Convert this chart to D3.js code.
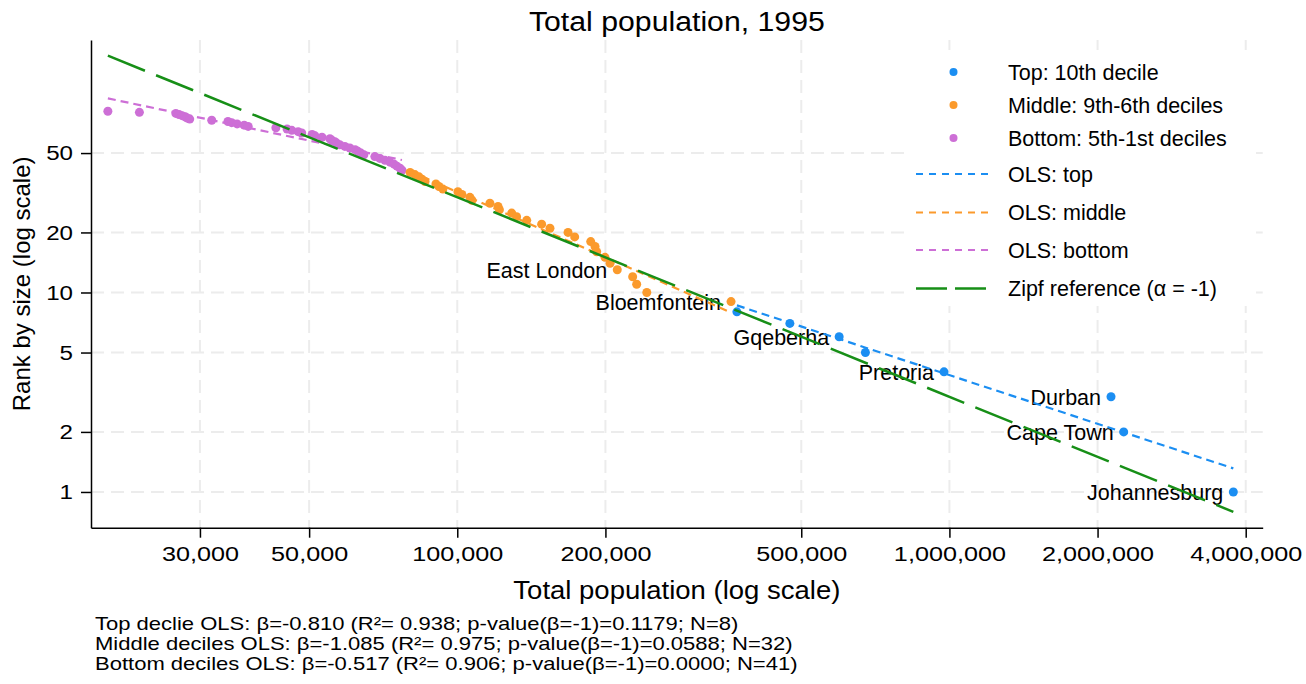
<!DOCTYPE html>
<html>
<head>
<meta charset="utf-8">
<script src="https://cdn.jsdelivr.net/npm/d3@7"></script>
<style>
body { margin: 0; background: #fff; }
svg text { font-family: "Liberation Sans", Arial, Helvetica, sans-serif; fill: #000; }
</style>
</head>
<body>
<div id="chart"></div>
<script>
// populations, ordered by rank
const topPop = [3775000, 2260000, 2130000, 975000, 675000, 597000, 474000, 370000];
const middlePop = [360000, 242700, 231500, 227200, 211400, 204400, 199600, 192000, 190500, 186700,
    173200, 167900, 154300, 148400, 138400, 132000, 129000, 121800, 121000, 116500,
    107100, 106100, 102200, 100300, 93500, 91800, 90500, 86000, 84800, 83600, 82000, 80200];
const bottomPop = [77200, 76500, 75400, 74400, 73000, 71300, 69600, 68000, 64600, 63700,
    62800, 62000, 60500, 59100, 57700, 56900, 56400, 55600, 55100, 53100,
    51400, 50700, 48300, 47500, 46100, 45100, 42800, 37600, 36900, 35700,
    34800, 34200, 31700, 28600, 28200, 28000, 27600, 27200, 26800, 22600, 19500];

const groupKeys = ["top", "middle", "bottom"];
const groupLabels = ["Top: 10th decile", "Middle: 9th-6th deciles", "Bottom: 5th-1st deciles"];
const olsLabels = ["OLS: top", "OLS: middle", "OLS: bottom"];
const olsBeta = [-0.810, -1.085, -0.517];
const groupColors = ["#1b8ef2", "#fb9a2c", "#cd6fd6"];
const zipfColor = "#178f17";
const zipfConst = 3000000;   // rank * population of the reference line

const labelCities = ["Johannesburg", "Cape Town", "Durban", "Pretoria", "Gqeberha", "Bloemfontein", "East London"];
const labelRanks = [1, 2, 3, 4, 6, 9, 13];

const xTicks = [30000, 50000, 100000, 200000, 500000, 1000000, 2000000, 4000000];
const yTicks = [1, 2, 5, 10, 20, 50];

const notes = [
    "Top declie OLS: β=-0.810 (R²= 0.938; p-value(β=-1)=0.1179; N=8)",
    "Middle deciles OLS: β=-1.085 (R²= 0.975; p-value(β=-1)=0.0588; N=32)",
    "Bottom deciles OLS: β=-0.517 (R²= 0.906; p-value(β=-1)=0.0000; N=41)"
];

// text that is a bit wider than the installed font gives
function addText(parent, x, y, str, size, anchor, sx) {
    return parent.append("text")
        .attr("transform", "translate(" + x + "," + y + ") scale(" + sx + ",1)")
        .attr("text-anchor", anchor)
        .style("font-size", size + "px")
        .text(str);
}

function zipfPlot() {
    var width = 1306, height = 684;
    var margin = {top: 40, right: 43.3, bottom: 156.3, left: 91};
    var pw = width - margin.left - margin.right;
    var ph = height - margin.top - margin.bottom;

    var groups = [topPop, middlePop, bottomPop];
    var all = [];
    groups.forEach(function(arr, gi) {
        arr.forEach(function(p) { all.push({pop: p, group: gi}); });
    });
    all.sort(function(a, b) { return b.pop - a.pop; });
    all.forEach(function(d, i) { d.rank = i + 1; });

    var x = d3.scaleLog().domain([18020, 4331000]).range([0, pw]);
    var y = d3.scaleLog().domain([0.662, 184.4]).range([ph, 0]);

    var svg = d3.select("#chart").append("svg")
        .attr("width", width)
        .attr("height", height)
        .style("background", "#fff");

    addText(svg, margin.left + pw / 2, 31, "Total population, 1995", 27, "middle", 1.12);

    var g = svg.append("g")
        .attr("transform", "translate(" + margin.left + "," + margin.top + ")");

    // grid
    g.selectAll(".vgrid").data(xTicks).enter().append("line")
        .attr("x1", function(d) { return x(d); })
        .attr("x2", function(d) { return x(d); })
        .attr("y1", 0).attr("y2", ph)
        .attr("stroke", "#ececec").attr("stroke-width", 2)
        .attr("stroke-dasharray", "13,7");
    g.selectAll(".hgrid").data(yTicks).enter().append("line")
        .attr("y1", function(d) { return y(d); })
        .attr("y2", function(d) { return y(d); })
        .attr("x1", 0).attr("x2", pw)
        .attr("stroke", "#ececec").attr("stroke-width", 2)
        .attr("stroke-dasharray", "13,7");

    // axes
    var xAxis = g.append("g")
        .attr("transform", "translate(0," + ph + ")")
        .call(d3.axisBottom(x).tickValues(xTicks).tickFormat(d3.format(",")).tickSize(10).tickSizeOuter(0).tickPadding(8));
    var yAxis = g.append("g")
        .call(d3.axisLeft(y).tickValues(yTicks).tickFormat(d3.format("d")).tickSize(10).tickSizeOuter(0).tickPadding(8));
    [xAxis, yAxis].forEach(function(a) {
        a.select(".domain").attr("stroke", "#000").attr("stroke-width", 1.5);
        a.selectAll(".tick line").attr("stroke", "#000").attr("stroke-width", 1.5);
        a.selectAll(".tick text").style("font-size", "21px").style("font-family", "'Liberation Sans', Arial, sans-serif");
    });
    xAxis.selectAll(".tick text").attr("transform", "scale(1.2,1)");
    yAxis.selectAll(".tick text").attr("x", 0).attr("transform", "translate(-18,0) scale(1.15,1)");

    addText(svg, margin.left + pw / 2, 599, "Total population (log scale)", 25, "middle", 1.1);

    svg.append("text")
        .attr("transform", "translate(30," + (margin.top + ph / 2) + ") rotate(-90)")
        .attr("text-anchor", "middle")
        .style("font-size", "24px")
        .text("Rank by size (log scale)");

    // points
    g.selectAll(".pt").data(all.slice().reverse()).enter().append("circle")
        .attr("cx", function(d) { return x(d.pop); })
        .attr("cy", function(d) { return y(d.rank); })
        .attr("r", 4.5)
        .attr("fill", function(d) { return groupColors[d.group]; });

    // city labels
    labelRanks.forEach(function(r, i) {
        var d = all[r - 1];
        addText(g, x(d.pop) - 10, y(d.rank) + 8, labelCities[i], 21.5, "end", 1);
    });

    // OLS lines through group means with the stated slopes
    groupKeys.forEach(function(k, gi) {
        var pts = all.filter(function(d) { return d.group === gi; });
        var mx = d3.mean(pts, function(d) { return Math.log10(d.pop); });
        var my = d3.mean(pts, function(d) { return Math.log10(d.rank); });
        var ext = d3.extent(pts, function(d) { return d.pop; });
        var line = ext.map(function(p) {
            return [x(p), y(Math.pow(10, my + olsBeta[gi] * (Math.log10(p) - mx)))];
        });
        g.append("path")
            .attr("d", d3.line()(line))
            .attr("fill", "none")
            .attr("stroke", groupColors[gi])
            .attr("stroke-width", 2.2)
            .attr("stroke-dasharray", "8,5");
    });

    // Zipf reference
    var pext = d3.extent(all, function(d) { return d.pop; });
    g.append("path")
        .attr("d", d3.line()(pext.map(function(p) { return [x(p), y(zipfConst / p)]; })))
        .attr("fill", "none")
        .attr("stroke", zipfColor)
        .attr("stroke-width", 2.5)
        .attr("stroke-dasharray", "40,12");

    // legend
    var leg = svg.append("g");
    leg.append("rect")
        .attr("x", 904).attr("y", 50).attr("width", 352).attr("height", 256)
        .attr("fill", "#fff");
    var ly = [72, 105, 138];
    groupLabels.forEach(function(t, i) {
        leg.append("circle").attr("cx", 953.5).attr("cy", ly[i]).attr("r", 4).attr("fill", groupColors[i]);
        addText(leg, 1008, ly[i] + 7.5, t, 21.5, "start", 1);
    });
    var ly2 = [174, 212.5, 250];
    olsLabels.forEach(function(t, i) {
        leg.append("line").attr("x1", 916).attr("x2", 992).attr("y1", ly2[i]).attr("y2", ly2[i])
            .attr("stroke", groupColors[i]).attr("stroke-width", 2.2).attr("stroke-dasharray", "7,6");
        addText(leg, 1008, ly2[i] + 7.5, t, 21.5, "start", 1);
    });
    leg.append("line").attr("x1", 916).attr("x2", 988).attr("y1", 288.5).attr("y2", 288.5)
        .attr("stroke", zipfColor).attr("stroke-width", 2.5).attr("stroke-dasharray", "31,8");
    addText(leg, 1008, 296, "Zipf reference (α = -1)", 21.5, "start", 1);

    // notes
    notes.forEach(function(t, i) {
        addText(svg, 95, 630 + i * 20, t, 18.5, "start", 1.19);
    });
}

zipfPlot();
</script>
</body>
</html>
